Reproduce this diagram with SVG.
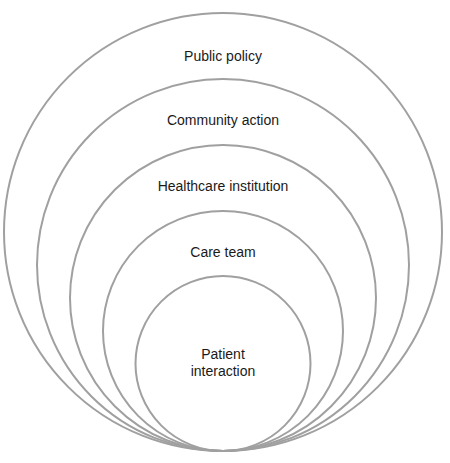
<svg xmlns="http://www.w3.org/2000/svg" width="450" height="463" viewBox="0 0 450 463">
<style>
.ring{fill:none;stroke:#a0a0a0;stroke-width:2}
.lbl{font-family:"Liberation Sans",Arial,sans-serif;font-size:14px;fill:#1a1a1a;text-anchor:middle}
</style>
<rect width="450" height="463" fill="#ffffff"/>
<g id="public-policy">
<circle class="ring" cx="223" cy="232" r="219"/>
<text class="lbl" x="223" y="61">Public policy</text>
</g>
<g id="community-action">
<circle class="ring" cx="223" cy="265" r="186"/>
<text class="lbl" x="223" y="125">Community action</text>
</g>
<g id="healthcare-institution">
<circle class="ring" cx="223" cy="298" r="153"/>
<text class="lbl" x="223" y="191">Healthcare institution</text>
</g>
<g id="care-team">
<circle class="ring" cx="223" cy="331" r="120"/>
<text class="lbl" x="223" y="257">Care team</text>
</g>
<g id="patient-interaction">
<circle class="ring" cx="223" cy="363.5" r="87.5"/>
<text class="lbl" x="223" y="359">Patient</text>
<text class="lbl" x="223" y="376">interaction</text>
</g>
<g id="connectors"></g>
</svg>
